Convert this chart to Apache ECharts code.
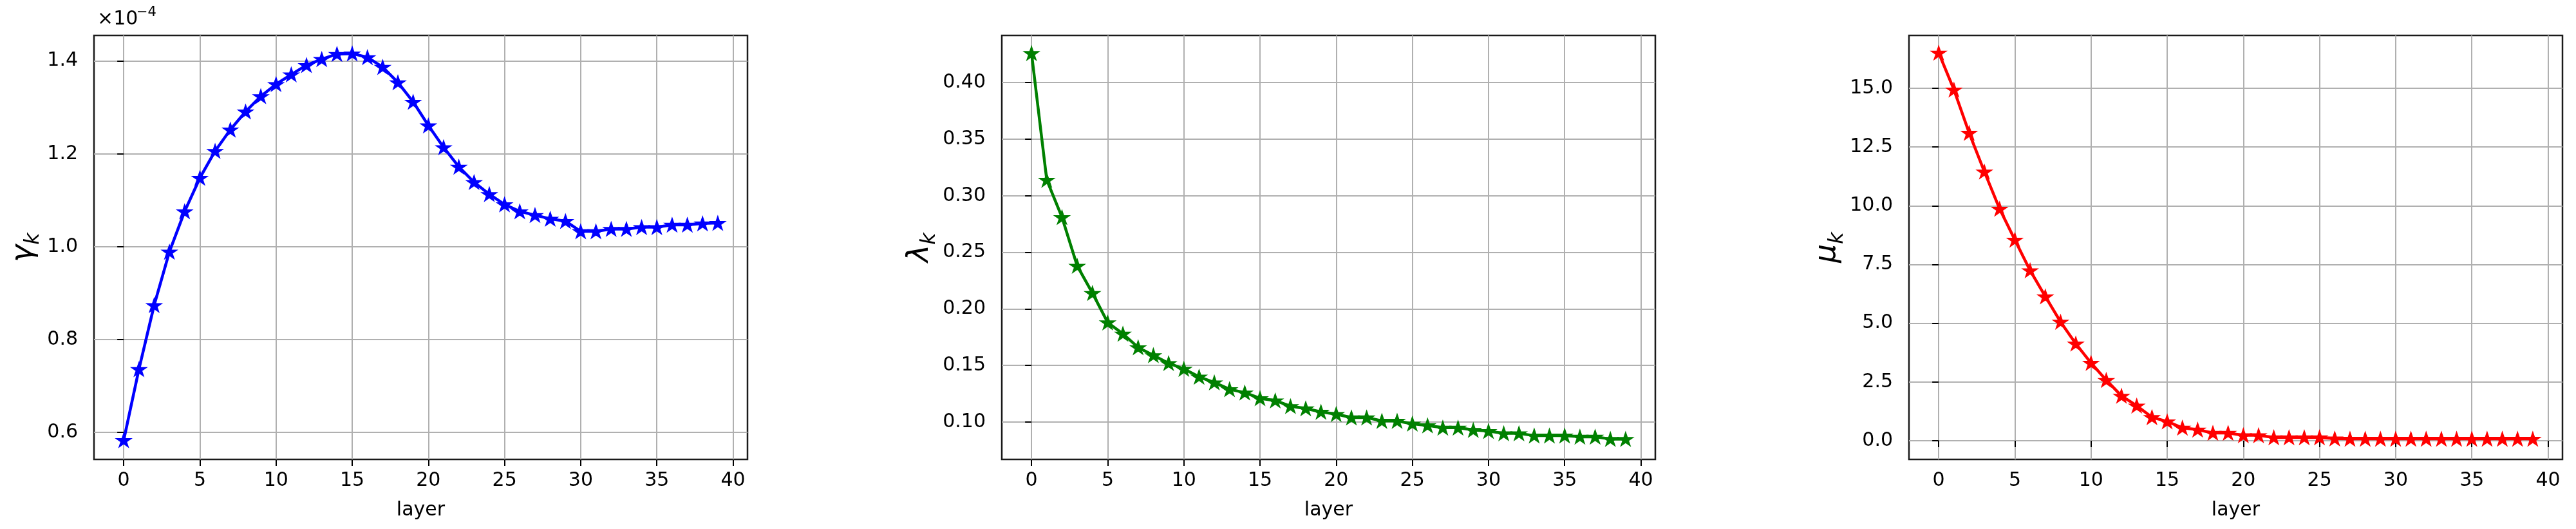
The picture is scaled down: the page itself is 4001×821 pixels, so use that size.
<!DOCTYPE html>
<html>
<head>
<meta charset="utf-8">
<script src="https://cdn.jsdelivr.net/npm/echarts@6/dist/echarts.min.js"></script>
<style>html,body{margin:0;padding:0;background:#fff}</style>
</head>
<body>
<div id="main" style="width:4001px;height:821px"></div>
<script>
// layer index (x axis)
const layers = [0, 1, 2, 3, 4, 5, 6, 7, 8, 9, 10, 11, 12, 13, 14, 15, 16, 17, 18, 19,
  20, 21, 22, 23, 24, 25, 26, 27, 28, 29, 30, 31, 32, 33, 34, 35, 36, 37, 38, 39]

// gamma_k, in units of 1e-4 (axis shows x10^-4 offset)
const gammaK = [0.583, 0.736, 0.874, 0.989, 1.076, 1.148, 1.206, 1.252, 1.291, 1.324,
  1.350, 1.371, 1.391, 1.404, 1.415, 1.416, 1.408, 1.387, 1.354, 1.312,
  1.261, 1.214, 1.172, 1.139, 1.113, 1.091, 1.076, 1.068, 1.060, 1.055,
  1.033, 1.033, 1.038, 1.038, 1.042, 1.042, 1.047, 1.047, 1.050, 1.051]

const lambdaK = [0.426, 0.314, 0.281, 0.238, 0.214, 0.188, 0.178, 0.166, 0.159, 0.152,
  0.147, 0.140, 0.135, 0.129, 0.126, 0.121, 0.119, 0.114, 0.112, 0.109,
  0.107, 0.104, 0.104, 0.101, 0.101, 0.0985, 0.097, 0.095, 0.095, 0.093,
  0.092, 0.090, 0.090, 0.088, 0.088, 0.088, 0.087, 0.087, 0.085, 0.085]

const muK = [16.51, 14.94, 13.10, 11.45, 9.87, 8.55, 7.25, 6.14, 5.06, 4.13,
  3.31, 2.58, 1.91, 1.49, 1.00, 0.82, 0.55, 0.47, 0.33, 0.33,
  0.23, 0.23, 0.14, 0.14, 0.14, 0.14, 0.09, 0.08, 0.08, 0.08,
  0.08, 0.08, 0.08, 0.08, 0.08, 0.08, 0.08, 0.08, 0.08, 0.08]

// tick labels
const xTicks = [0, 5, 10, 15, 20, 25, 30, 35, 40]
const gammaTicks = [0.6, 0.8, 1.0, 1.2, 1.4]
const lambdaTicks = [0.10, 0.15, 0.20, 0.25, 0.30, 0.35, 0.40]
const muTicks = [0, 2.5, 5, 7.5, 10, 12.5, 15]

const FONT = 'DejaVu Sans'
// matplotlib '*' marker
const star = 'path://M0 -1L0.2245 -0.309L0.9511 -0.309L0.3633 0.118L0.5878 0.809L0 0.382L-0.5878 0.809L-0.3633 0.118L-0.9511 -0.309L-0.2245 -0.309Z'

const gridLefts = [146, 1556, 2965]

function makeX(i) {
  return {
    type: 'value',
    gridIndex: i,
    min: -1.95,
    max: 40.95,
    name: 'layer',
    nameLocation: 'middle',
    nameGap: 64,
    nameTextStyle: { fontFamily: FONT, fontSize: 30, color: '#000' },
    axisLine: { show: false },
    axisTick: { show: true, length: 10, lineStyle: { color: '#000', width: 2 }, customValues: xTicks },
    axisLabel: { fontFamily: FONT, fontSize: 30, color: '#000', margin: 18, customValues: xTicks },
    splitLine: { show: true, lineStyle: { color: '#b0b0b0', width: 2 } }
  }
}

function makeY(i, min, max, ticks, digits, sym, gap) {
  return {
    type: 'value',
    gridIndex: i,
    min: min,
    max: max,
    name: '{g|' + sym + '}{k|k}',
    nameLocation: 'middle',
    nameGap: gap,
    nameTextStyle: {
      rich: {
        g: { fontFamily: FONT, fontSize: 46, fontStyle: 'italic', color: '#000' },
        k: { fontFamily: FONT, fontSize: 32, fontStyle: 'italic', color: '#000', verticalAlign: 'bottom', padding: [0, 0, -8, 0] }
      }
    },
    axisLine: { show: false },
    axisTick: { show: true, length: 10, lineStyle: { color: '#000', width: 2 }, customValues: ticks },
    axisLabel: {
      fontFamily: FONT, fontSize: 30, color: '#000', margin: 25, customValues: ticks,
      formatter: function(v) { return v.toFixed(digits) }
    },
    splitLine: { show: true, lineStyle: { color: '#b0b0b0', width: 2 } }
  }
}

function makeSeries(i, values, color) {
  return {
    type: 'line',
    xAxisIndex: i,
    yAxisIndex: i,
    data: layers.map(function(x, j) { return [x, values[j]] }),
    symbol: star,
    symbolSize: [23, 22],
    symbolKeepAspect: true,
    showAllSymbol: true,
    lineStyle: { color: color, width: 4.5 },
    itemStyle: { color: color, borderColor: color, borderWidth: 1.5 },
    z: 3
  }
}

var myChart = echarts.init(document.getElementById('main'))
var option = {
  animation: false,
  backgroundColor: '#fff',
  grid: gridLefts.map(function(l) {
    return { left: l, top: 55, width: 1015, height: 658, show: true, borderColor: '#1a1a1a', borderWidth: 2.5, backgroundColor: 'transparent' }
  }),
  xAxis: [makeX(0), makeX(1), makeX(2)],
  yAxis: [
    makeY(0, 0.5417, 1.4551, gammaTicks, 1, 'γ', 86),
    makeY(1, 0.067, 0.4417, lambdaTicks, 2, 'λ', 104),
    makeY(2, -0.795, 17.25, muTicks, 1, 'μ', 102)
  ],
  series: [
    makeSeries(0, gammaK, '#0000ff'),
    makeSeries(1, lambdaK, '#008000'),
    makeSeries(2, muK, '#ff0000')
  ],
  graphic: [
    { type: 'text', left: 151, top: 15, style: { text: '×10', fontFamily: FONT, fontSize: 30, fill: '#000' } },
    { type: 'text', left: 212, top: 9, style: { text: '−4', fontFamily: FONT, fontSize: 21, fill: '#000' } }
  ]
}
myChart.setOption(option)
</script>
</body>
</html>
